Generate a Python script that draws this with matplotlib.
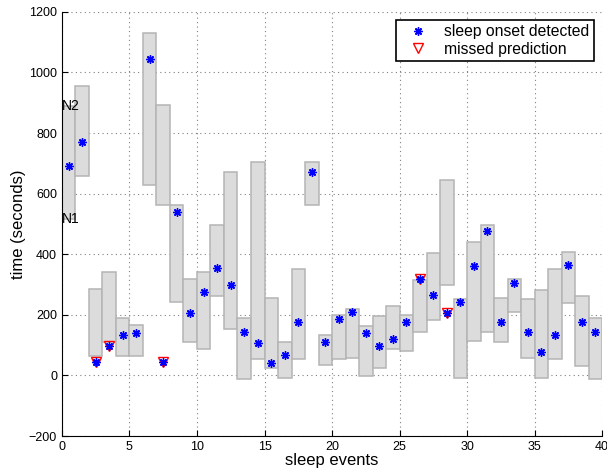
import numpy as np
import matplotlib
matplotlib.use('Agg')
import matplotlib.pyplot as plt

# N1 (bottom) and N2 (top) of each sleep event, and the detected onset
n1 = [515, 657, 63, 112, 63, 63, 630, 564, 244, 112,
      86, 261, 152, -10, 53, 26, -7, 53, 561, 36,
      56, 59, -3, 26, 86, 80, 142, 182, 297, -7,
      115, 145, 112, 211, 59, -7, 53, 238, 30, -10]
n2 = [888, 954, 284, 343, 191, 165, 1129, 891, 561, 317,
      343, 498, 673, 191, 706, 257, 109, 350, 703, 132,
      198, 221, 162, 195, 228, 201, 314, 403, 644, 251,
      439, 495, 257, 317, 251, 281, 350, 406, 261, 191]
detected = [690, 769, 46, 96, 135, 139, 1043, 46, 541, 205,
            277, 356, 300, 142, 106, 40, 69, 175, 673, 109,
            188, 211, 139, 96, 122, 175, 317, 264, 205, 244,
            360, 478, 175, 304, 145, 79, 135, 366, 175, 145]
missed = [2, 3, 7, 26, 28]

plt.rcParams['font.family'] = ['Liberation Sans', 'DejaVu Sans']

fig = plt.figure(figsize=(6.07, 4.74), dpi=100)
ax = fig.add_axes([0.102, 0.080, 0.890, 0.895])

idx = np.arange(len(n1))
n1 = np.array(n1)
n2 = np.array(n2)
detected = np.array(detected)

ax.bar(idx, n2 - n1, bottom=n1, width=1, align='edge',
       color='#dcdcdc', edgecolor='#b4b4b4', linewidth=1.1, zorder=2)

ax.plot(idx[missed] + 0.5, detected[missed], linestyle='none', marker='v',
        markersize=6.5, markerfacecolor='none', markeredgecolor='red',
        markeredgewidth=1.0, label='missed prediction', zorder=3)
ax.plot(idx + 0.5, detected, linestyle='none', marker=(8, 2, 0),
        markersize=6, color='blue', markeredgewidth=1.0,
        label='sleep onset detected', zorder=4)

ax.text(0, n2[0], 'N2', ha='left', va='center', fontsize=10, zorder=5)
ax.text(0, n1[0], 'N1', ha='left', va='center', fontsize=10, zorder=5)

ax.set_xlim(0, 40)
ax.set_ylim(-200, 1200)
ax.set_xticks(range(0, 41, 5))
ax.set_yticks(range(-200, 1201, 200))
ax.tick_params(direction='in', labelsize=9, length=4)
ax.grid(True, linestyle=(0, (1, 3)), color='#808080', linewidth=0.8)
ax.set_axisbelow(True)
for s in ['top', 'right']:
    ax.spines[s].set_visible(False)

ax.set_xlabel('sleep events', fontsize=12, labelpad=0)
ax.set_ylabel('time (seconds)', fontsize=12, labelpad=2)

handles, labels = ax.get_legend_handles_labels()
leg = ax.legend(handles[::-1], labels[::-1], loc='upper right', fontsize=11.3,
                fancybox=False, framealpha=1, edgecolor='black',
                borderaxespad=0.5, handletextpad=0.6, borderpad=0.3,
                labelspacing=0.15, handlelength=2.2)
leg.get_frame().set_linewidth(1.2)

fig.savefig('out.png', dpi=100)
